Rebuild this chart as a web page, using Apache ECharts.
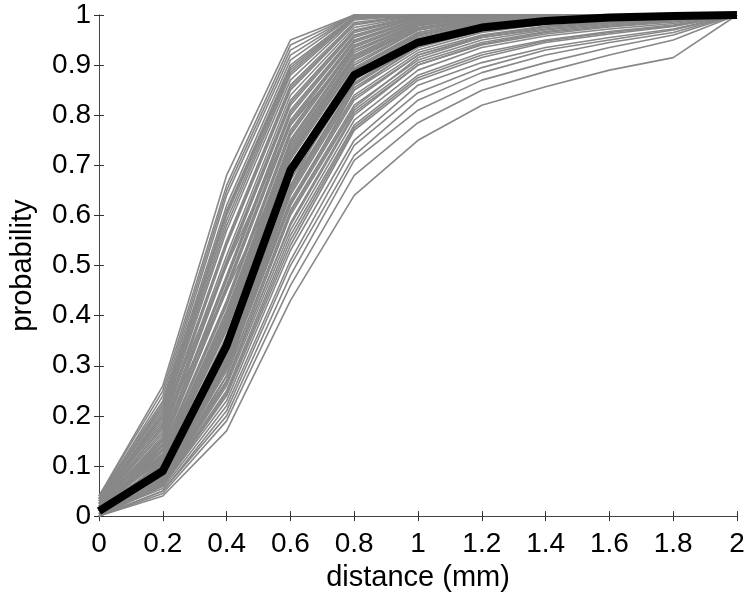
<!DOCTYPE html>
<html>
<head>
<meta charset="utf-8">
<script src="https://cdn.jsdelivr.net/npm/echarts@6/dist/echarts.min.js"></script>
<style>
  html, body { margin: 0; padding: 0; background: #fff; }
  #chart { width: 750px; height: 597px; }
</style>
</head>
<body>
<div id="chart"></div>
<script>
// distance steps (mm)
var distances = [0, 0.2, 0.4, 0.6, 0.8, 1.0, 1.2, 1.4, 1.6, 1.8, 2.0];

// thick black curve
var meanProb = [0.01, 0.09, 0.34, 0.69, 0.88, 0.945, 0.975, 0.988, 0.995, 0.998, 1];

// individual gray curves, roughly lowest to highest
var grayCurves = [
  [0, 0.04, 0.17, 0.43, 0.64, 0.75, 0.82, 0.857, 0.89, 0.915, 1],
  [0, 0.045, 0.19, 0.46, 0.68, 0.785, 0.85, 0.887, 0.92, 0.95, 1],
  [0, 0.05, 0.2, 0.48, 0.71, 0.81, 0.87, 0.905, 0.935, 0.96, 1],
  [0, 0.05, 0.21, 0.5, 0.72, 0.83, 0.885, 0.92, 0.945, 0.965, 1],
  [0.005, 0.055, 0.22, 0.51, 0.74, 0.845, 0.895, 0.93, 0.95, 0.97, 1],
  [0, 0.06, 0.23, 0.53, 0.75, 0.86, 0.905, 0.935, 0.955, 0.972, 1],
  [0.005, 0.06, 0.24, 0.54, 0.77, 0.87, 0.915, 0.945, 0.962, 0.977, 1],
  [0.005, 0.062, 0.245, 0.55, 0.775, 0.875, 0.92, 0.948, 0.965, 0.978, 1],
  [0, 0.065, 0.25, 0.56, 0.78, 0.88, 0.925, 0.95, 0.967, 0.98, 1],
  [0.01, 0.065, 0.26, 0.57, 0.79, 0.89, 0.935, 0.958, 0.972, 0.983, 1],
  [0.01, 0.068, 0.265, 0.585, 0.805, 0.9, 0.942, 0.965, 0.978, 0.987, 1],
  [0, 0.07, 0.27, 0.58, 0.8, 0.9, 0.94, 0.962, 0.976, 0.986, 1],
  [0.005, 0.07, 0.27, 0.6, 0.81, 0.905, 0.945, 0.967, 0.98, 0.988, 1],
  [0.005, 0.072, 0.28, 0.605, 0.815, 0.915, 0.955, 0.972, 0.984, 0.991, 1],
  [0.01, 0.075, 0.28, 0.61, 0.82, 0.91, 0.95, 0.97, 0.982, 0.99, 1],
  [0, 0.075, 0.29, 0.62, 0.83, 0.92, 0.955, 0.975, 0.985, 0.992, 1],
  [0.01, 0.078, 0.295, 0.625, 0.835, 0.92, 0.958, 0.977, 0.987, 0.993, 1],
  [0.01, 0.08, 0.3, 0.63, 0.84, 0.925, 0.96, 0.978, 0.988, 0.993, 1],
  [0.005, 0.08, 0.3, 0.64, 0.85, 0.93, 0.965, 0.982, 0.99, 0.995, 1],
  [0.01, 0.082, 0.305, 0.645, 0.855, 0.935, 0.968, 0.984, 0.991, 0.995, 1],
  [0.01, 0.085, 0.31, 0.65, 0.86, 0.94, 0.97, 0.985, 0.992, 0.996, 1],
  [0.005, 0.088, 0.315, 0.655, 0.862, 0.942, 0.972, 0.986, 0.993, 0.997, 1],
  [0.01, 0.09, 0.32, 0.66, 0.865, 0.945, 0.975, 0.988, 0.994, 0.997, 1],
  [0.005, 0.09, 0.33, 0.67, 0.87, 0.95, 0.978, 0.99, 0.995, 0.998, 1],
  [0.015, 0.092, 0.335, 0.675, 0.875, 0.952, 0.98, 0.991, 0.996, 0.998, 1],
  [0.01, 0.095, 0.34, 0.68, 0.88, 0.955, 0.982, 0.992, 0.996, 0.998, 1],
  [0.01, 0.098, 0.345, 0.685, 0.885, 0.958, 0.984, 0.993, 0.997, 0.999, 1],
  [0.015, 0.1, 0.35, 0.69, 0.89, 0.96, 0.985, 0.994, 0.997, 0.999, 1],
  [0.015, 0.102, 0.355, 0.695, 0.892, 0.962, 0.986, 0.995, 0.998, 1, 1],
  [0.01, 0.1, 0.36, 0.7, 0.895, 0.965, 0.987, 0.995, 0.998, 1, 1],
  [0.015, 0.105, 0.37, 0.71, 0.9, 0.97, 0.99, 0.996, 0.998, 1, 1],
  [0.01, 0.108, 0.375, 0.715, 0.905, 0.97, 0.99, 0.997, 0.999, 1, 1],
  [0.01, 0.11, 0.38, 0.72, 0.91, 0.972, 0.992, 0.997, 0.999, 1, 1],
  [0.02, 0.112, 0.385, 0.725, 0.912, 0.974, 0.992, 0.998, 1, 1, 1],
  [0.02, 0.115, 0.39, 0.73, 0.915, 0.975, 0.993, 0.998, 1, 1, 1],
  [0.015, 0.118, 0.395, 0.735, 0.918, 0.978, 0.994, 0.999, 1, 1, 1],
  [0.015, 0.12, 0.4, 0.74, 0.92, 0.98, 0.995, 0.999, 1, 1, 1],
  [0.02, 0.122, 0.405, 0.745, 0.925, 0.982, 0.995, 1, 1, 1, 1],
  [0.02, 0.125, 0.41, 0.75, 0.93, 0.983, 0.996, 1, 1, 1, 1],
  [0.015, 0.13, 0.42, 0.76, 0.935, 0.985, 0.997, 1, 1, 1, 1],
  [0.02, 0.132, 0.425, 0.765, 0.938, 0.987, 0.997, 1, 1, 1, 1],
  [0.02, 0.135, 0.43, 0.77, 0.94, 0.988, 0.998, 1, 1, 1, 1],
  [0.02, 0.14, 0.45, 0.78, 0.945, 0.99, 0.998, 1, 1, 1, 1],
  [0.025, 0.142, 0.455, 0.785, 0.948, 0.991, 0.999, 1, 1, 1, 1],
  [0.025, 0.145, 0.46, 0.79, 0.95, 0.992, 0.999, 1, 1, 1, 1],
  [0.02, 0.15, 0.47, 0.8, 0.955, 0.994, 1, 1, 1, 1, 1],
  [0.02, 0.152, 0.475, 0.805, 0.958, 0.995, 1, 1, 1, 1, 1],
  [0.025, 0.155, 0.48, 0.81, 0.96, 0.995, 1, 1, 1, 1, 1],
  [0.02, 0.16, 0.5, 0.82, 0.965, 0.996, 1, 1, 1, 1, 1],
  [0.025, 0.165, 0.505, 0.825, 0.968, 0.997, 1, 1, 1, 1, 1],
  [0.025, 0.17, 0.51, 0.83, 0.97, 0.997, 1, 1, 1, 1, 1],
  [0.03, 0.175, 0.52, 0.84, 0.975, 0.998, 1, 1, 1, 1, 1],
  [0.025, 0.18, 0.54, 0.85, 0.98, 0.999, 1, 1, 1, 1, 1],
  [0.03, 0.185, 0.545, 0.855, 0.982, 1, 1, 1, 1, 1, 1],
  [0.03, 0.19, 0.55, 0.86, 0.985, 1, 1, 1, 1, 1, 1],
  [0.03, 0.195, 0.57, 0.87, 0.99, 1, 1, 1, 1, 1, 1],
  [0.035, 0.2, 0.58, 0.88, 0.992, 1, 1, 1, 1, 1, 1],
  [0.03, 0.205, 0.59, 0.885, 0.994, 1, 1, 1, 1, 1, 1],
  [0.03, 0.21, 0.6, 0.89, 0.995, 1, 1, 1, 1, 1, 1],
  [0.035, 0.215, 0.605, 0.895, 0.996, 1, 1, 1, 1, 1, 1],
  [0.035, 0.22, 0.61, 0.9, 0.997, 1, 1, 1, 1, 1, 1],
  [0.035, 0.225, 0.62, 0.91, 1, 1, 1, 1, 1, 1, 1],
  [0.04, 0.23, 0.64, 0.92, 1, 1, 1, 1, 1, 1, 1],
  [0.035, 0.24, 0.65, 0.93, 1, 1, 1, 1, 1, 1, 1],
  [0.04, 0.25, 0.66, 0.94, 1, 1, 1, 1, 1, 1, 1],
  [0.04, 0.26, 0.68, 0.95, 1, 1, 1, 1, 1, 1, 1],
  // a few that cross the others
  [0.02, 0.18, 0.45, 0.72, 0.9, 0.97, 0.99, 1, 1, 1, 1],
  [0.005, 0.07, 0.33, 0.75, 0.93, 0.98, 0.995, 1, 1, 1, 1],
  [0.01, 0.12, 0.3, 0.62, 0.85, 0.94, 0.975, 0.99, 0.997, 1, 1],
  [0.03, 0.2, 0.5, 0.78, 0.93, 0.98, 0.995, 1, 1, 1, 1],
  [0, 0.06, 0.28, 0.66, 0.89, 0.965, 0.99, 0.998, 1, 1, 1],
  [0.015, 0.14, 0.38, 0.68, 0.87, 0.95, 0.98, 0.993, 0.998, 1, 1]
];

var chart = echarts.init(document.getElementById('chart'));

function pairs(ys) {
  return distances.map(function (d, i) { return [d, ys[i]]; });
}

var series = grayCurves.map(function (c) {
  return {
    type: 'line',
    data: pairs(c),
    symbol: 'none',
    silent: true,
    lineStyle: { color: '#888888', width: 1.6 }
  };
});
series.push({
  type: 'line',
  data: pairs(meanProb),
  symbol: 'none',
  silent: true,
  z: 5,
  lineStyle: { color: '#000', width: 8, join: 'round' }
});

var font = 'Liberation Sans, Arial, sans-serif';
var frame = { lineStyle: { color: '#444', width: 1 } };
var tickIn = { show: true, inside: true, length: 5, lineStyle: { color: '#333' } };

var option = {
  animation: false,
  grid: { left: 94, right: 13, top: 15, bottom: 77 },
  xAxis: [
    {
      type: 'value', min: 0, max: 2, interval: 0.2,
      name: 'distance (mm)', nameLocation: 'middle', nameGap: 45,
      nameTextStyle: { fontSize: 29, color: '#000', fontFamily: font },
      axisLine: frame, axisTick: tickIn, splitLine: { show: false },
      axisLabel: { fontSize: 28, color: '#000', fontFamily: font, margin: 14 }
    },
    {
      type: 'value', min: 0, max: 2, interval: 0.2, position: 'top',
      axisLine: frame, axisTick: tickIn, splitLine: { show: false },
      axisLabel: { show: false }
    }
  ],
  yAxis: [
    {
      type: 'value', min: 0, max: 1, interval: 0.1,
      name: 'probability', nameLocation: 'middle', nameGap: 62,
      nameTextStyle: { fontSize: 29, color: '#000', fontFamily: font },
      axisLine: frame, axisTick: tickIn, splitLine: { show: false },
      axisLabel: { fontSize: 28, color: '#000', fontFamily: font, margin: 8 }
    },
    {
      type: 'value', min: 0, max: 1, interval: 0.1, position: 'right',
      axisLine: frame, axisTick: tickIn, splitLine: { show: false },
      axisLabel: { show: false }
    }
  ],
  series: series
};

chart.setOption(option);
</script>
</body>
</html>
